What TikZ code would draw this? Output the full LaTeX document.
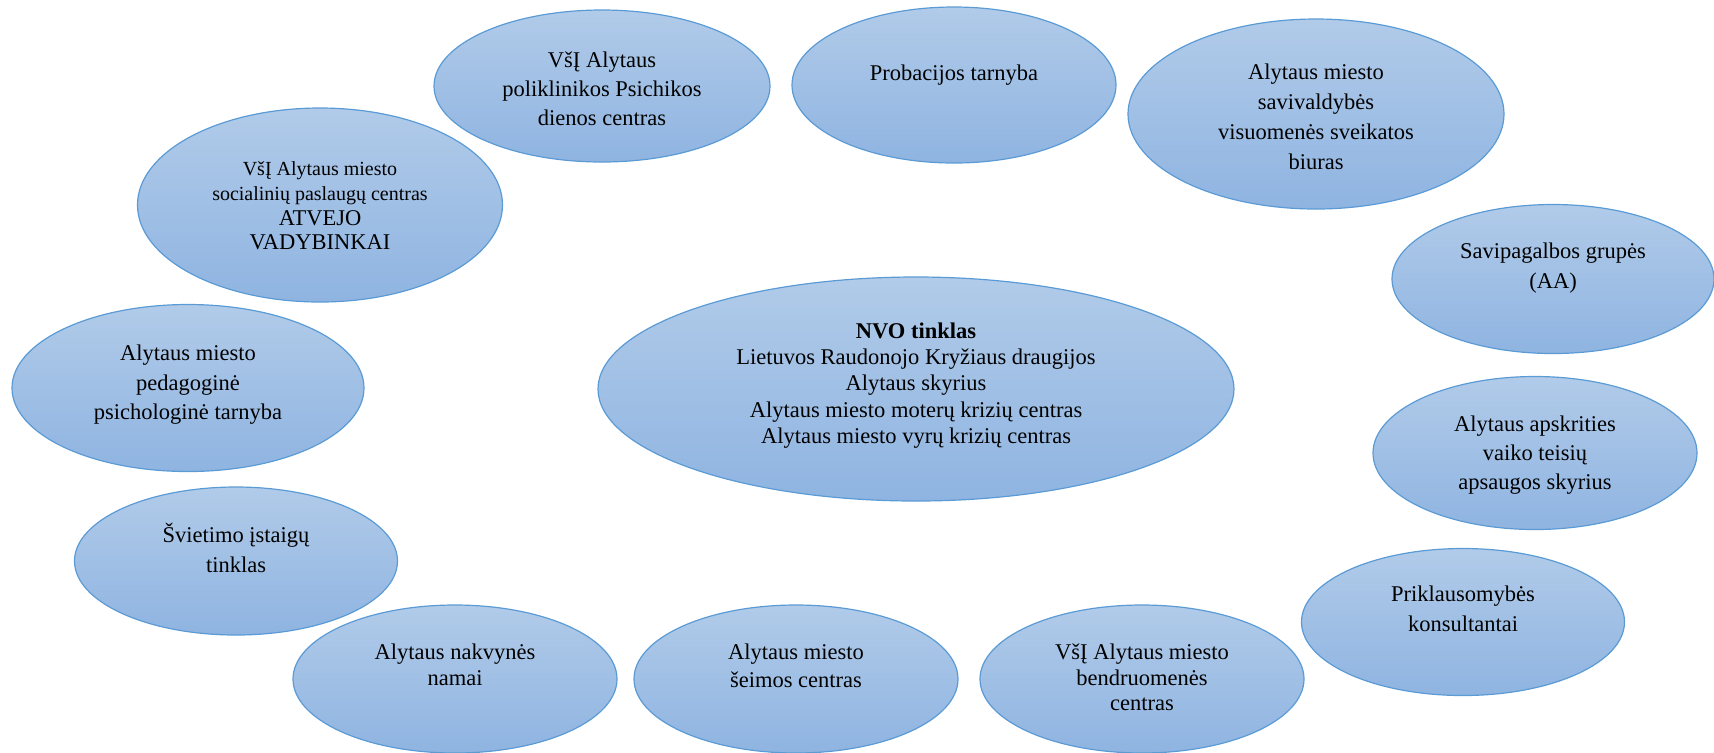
\documentclass[tikz,border=0pt]{standalone}
\usepackage{fontspec}
\setmainfont{Liberation Serif}
\usetikzlibrary{shapes.geometric}
\definecolor{bubtop}{RGB}{177,203,233}
\definecolor{bubbot}{RGB}{143,180,225}
\definecolor{bubline}{RGB}{91,155,213}
\newcommand{\smalltxt}{\fontsize{10pt}{12pt}\selectfont}
\begin{document}
\begin{tikzpicture}[x=0.5pt,y=-0.5pt,
  bubble/.style={ellipse,draw=bubline,line width=0.6pt,top color=bubtop,bottom color=bubbot,inner sep=0pt,outer sep=0pt},
  bubtext/.style={align=center,inner sep=0pt,text=black}]
\useasboundingbox (0,0) rectangle (1714,752);
\clip (0,0) rectangle (1714,752);
\foreach \nm/\cx/\cy/\w/\h/\ty/\ls/\txt in {
  poli/602/86/336/152/89/14.5/{VšĮ Alytaus\\poliklinikos Psichikos\\dienos centras},
  prob/954/85/324/156/75/14.5/{Probacijos tarnyba},
  savi/1316/114/376/190/117/15/{Alytaus miesto\\savivaldybės\\visuomenės sveikatos\\biuras},
  soc/320/205/365/194/206/12.3/{\smalltxt VšĮ Alytaus miesto\\\smalltxt socialinių paslaugų centras\\ATVEJO\\VADYBINKAI},
  aa/1553/279/322/149/268/15/{Savipagalbos grupės\\(AA)},
  nvo/916/389/636/224/385.5/13.1/{\textbf{NVO tinklas}\\Lietuvos Raudonojo Kryžiaus draugijos\\Alytaus skyrius\\Alytaus miesto moterų krizių centras\\Alytaus miesto vyrų krizių centras},
  ped/188/388/352/167/385/14.75/{Alytaus miesto\\pedagoginė\\psichologinė tarnyba},
  vtas/1535/453/324/153/455/14.5/{Alytaus apskrities\\vaiko teisių\\apsaugos skyrius},
  svi/236/561/323/148/548/15/{Švietimo įstaigų\\tinklas},
  prikl/1463/622/323/147/609/15/{Priklausomybės\\konsultantai},
  nakv/455/679/324/148/664.5/13/{Alytaus nakvynės\\namai},
  seim/796/679/324/148/666/14/{Alytaus miesto\\šeimos centras},
  bendr/1142/679/324/148/677.5/12.75/{VšĮ Alytaus miesto\\bendruomenės\\centras}} {
  \node[bubble,minimum width=\w*0.5pt,minimum height=\h*0.5pt] (\nm) at (\cx,\cy) {};
  \node[bubtext,font={\fontsize{11.25pt}{\ls pt}\selectfont}] (\nm-txt) at (\cx,\ty) {\txt};
}
\end{tikzpicture}
\end{document}
